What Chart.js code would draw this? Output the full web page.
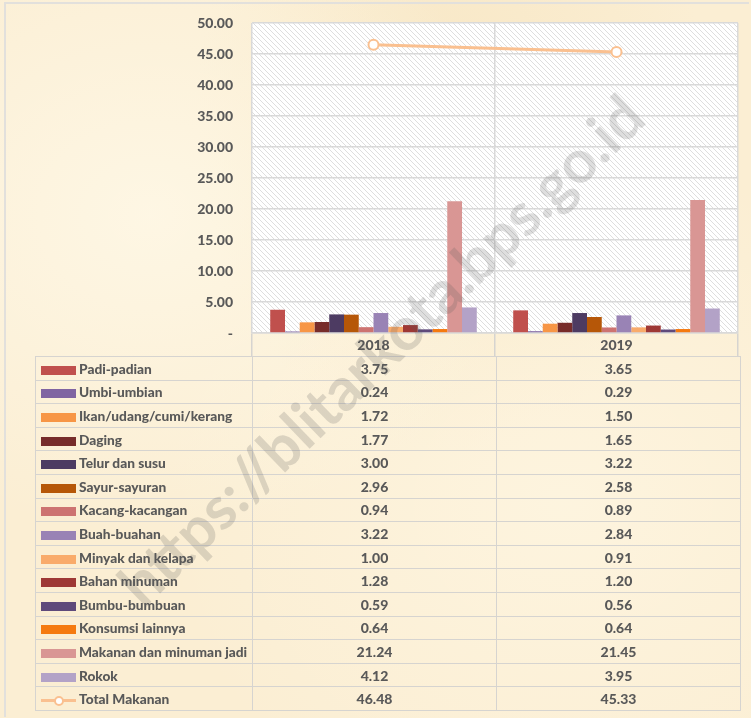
<!DOCTYPE html>
<html>
<head>
<meta charset="utf-8">
<script src="https://cdn.jsdelivr.net/npm/chart.js@4.4.1/dist/chart.umd.min.js"></script>
<style>
  html, body { margin: 0; padding: 0; }
  body {
    width: 751px; height: 718px; overflow: hidden;
    background:
      radial-gradient(ellipse at 20% 30%, rgba(255,250,235,0.7), rgba(255,250,235,0) 45%),
      radial-gradient(ellipse at 75% 70%, rgba(255,248,230,0.6), rgba(255,248,230,0) 50%),
      radial-gradient(ellipse at 60% 15%, rgba(245,225,185,0.5), rgba(245,225,185,0) 40%),
      #fbeed3;
    font-family: Lato, "Open Sans", sans-serif;
  }
  #wrap { position: relative; width: 751px; height: 718px; }
  #frame {
    position: absolute; left: 4px; top: 2px; width: 743px; height: 713px;
    border: 2px solid #e2e0dc; border-bottom: none; border-right: none;
  }
  canvas { position: absolute; left: 0; top: 0; }
  #tbl {
    position: absolute; left: 35px; top: 356px;
    border-collapse: collapse; table-layout: fixed; width: 703px;
    color: #595959; font-weight: 900;
  }
  #tbl td { border: 1px solid #d6d4d0; height: 22.6px; padding: 0; }
  #tbl td.lab { width: 216px; font-size: 13.7px; white-space: nowrap; }
  #tbl td.val { width: 243px; text-align: center; font-size: 14px; }
  .key { display: inline-block; width: 35px; height: 9px; margin: 0 3px 0 5px; vertical-align: -1px; }
  .lkey { display: inline-block; position: relative; width: 35px; height: 9px; margin: 0 3px 0 5px; vertical-align: -1px; }
  .lkey:before { content: ""; position: absolute; left: 0; right: 0; top: 3px; height: 3px; background: #fac090; }
  .lkey:after { content: ""; position: absolute; left: 13px; top: 0; width: 6px; height: 6px; border: 2px solid #fac090; border-radius: 50%; background: #fff; }
  #wm {
    position: absolute; left: 380px; top: 349px; white-space: nowrap;
    transform: translate(-50%, -50%) rotate(-44deg);
    font: bold 60px Lato, sans-serif; color: rgba(90, 90, 90, 0.2);
    pointer-events: none;
  }
</style>
</head>
<body>
<div id="wrap">
  <div id="frame"></div>
  <canvas id="chart" width="751" height="718"></canvas>
  <table id="tbl"></table>
  <div id="wm">https://blitarkota.bps.go.id</div>
</div>
<script>
const years = ['2018', '2019'];
const names = [
  'Padi-padian', 'Umbi-umbian', 'Ikan/udang/cumi/kerang', 'Daging', 'Telur dan susu',
  'Sayur-sayuran', 'Kacang-kacangan', 'Buah-buahan', 'Minyak dan kelapa', 'Bahan minuman',
  'Bumbu-bumbuan', 'Konsumsi lainnya', 'Makanan dan minuman jadi', 'Rokok'
];
const v2018 = [3.75, 0.24, 1.72, 1.77, 3.00, 2.96, 0.94, 3.22, 1.00, 1.28, 0.59, 0.64, 21.24, 4.12];
const v2019 = [3.65, 0.29, 1.50, 1.65, 3.22, 2.58, 0.89, 2.84, 0.91, 1.20, 0.56, 0.64, 21.45, 3.95];
const totalName = 'Total Makanan';
const total = [46.48, 45.33];
const colors = [
  '#c0504d', '#8064a2', '#f79646', '#772c2a', '#4d3b62',
  '#b65708', '#cd7371', '#9983b5', '#f9ab6b', '#9e3835',
  '#5f4a7b', '#f57a10', '#d99694', '#b3a2c7'
];
const lineColor = '#fac090';

// hatch fill for the plot area
const makeHatch = () => {
  const c = document.createElement('canvas');
  c.width = 5; c.height = 5;
  const g = c.getContext('2d');
  g.fillStyle = '#ffffff';
  g.fillRect(0, 0, 5, 5);
  g.strokeStyle = '#dedede';
  g.lineWidth = 1;
  g.beginPath();
  g.moveTo(-1, -1); g.lineTo(6, 6);
  g.moveTo(-1, 4); g.lineTo(1, 6);
  g.moveTo(4, -1); g.lineTo(6, 1);
  g.stroke();
  return c;
};

const hatchPlugin = {
  id: 'hatch',
  beforeDraw(chart) {
    const a = chart.chartArea, ctx = chart.ctx;
    ctx.save();
    ctx.fillStyle = ctx.createPattern(makeHatch(), 'repeat');
    ctx.fillRect(a.left, a.top, a.right - a.left, a.bottom - a.top);
    ctx.restore();
  }
};

const datasets = names.map((n, i) => ({
  type: 'bar',
  label: n,
  data: [v2018[i], v2019[i]],
  backgroundColor: colors[i],
  borderWidth: 0,
  categoryPercentage: 0.85,
  barPercentage: 1.0,
  order: 1
}));
datasets.push({
  type: 'line',
  label: totalName,
  data: total,
  borderColor: lineColor,
  borderWidth: 3,
  pointRadius: 5,
  pointBorderWidth: 2,
  pointBackgroundColor: '#ffffff',
  pointBorderColor: lineColor,
  order: 0
});

const ctx = document.getElementById('chart').getContext('2d');
new Chart(ctx, {
  data: { labels: years, datasets: datasets },
  plugins: [hatchPlugin],
  options: {
    responsive: false,
    animation: false,
    layout: { padding: { left: 0, top: 23, right: 13, bottom: 362 } },
    plugins: { legend: { display: false }, tooltip: { enabled: false } },
    scales: {
      x: {
        grid: { color: '#d9d9d9', lineWidth: 1.5, offset: true, tickLength: 23, tickColor: '#d6d4d0' },
        border: { color: '#d9d9d9', width: 1.5 },
        ticks: { color: '#595959', font: { family: 'Lato', weight: '900', size: 14 }, padding: -19 },
        afterFit: (s) => { s.height = 23; }
      },
      y: {
        min: 0, max: 50,
        grid: { color: '#d9d9d9', lineWidth: 1.5, tickLength: 19, tickColor: 'rgba(0,0,0,0)' },
        border: { display: false },
        ticks: {
          stepSize: 5, padding: 0, color: '#595959',
          font: { family: 'Lato', weight: '900', size: 14 },
          callback: (v) => v === 0 ? '-' : v.toFixed(2)
        },
        afterFit: (s) => { s.width = 252; }
      }
    }
  }
});

// data table under the chart
const tbl = document.getElementById('tbl');
names.forEach((n, i) => {
  const tr = document.createElement('tr');
  tr.innerHTML = '<td class="lab"><span class="key" style="background:' + colors[i] + '"></span>' + n + '</td>' +
    '<td class="val">' + v2018[i].toFixed(2) + '</td><td class="val">' + v2019[i].toFixed(2) + '</td>';
  tbl.appendChild(tr);
});
const tr = document.createElement('tr');
tr.innerHTML = '<td class="lab"><span class="lkey"></span>' + totalName + '</td>' +
  '<td class="val">' + total[0].toFixed(2) + '</td><td class="val">' + total[1].toFixed(2) + '</td>';
tbl.appendChild(tr);
</script>
</body>
</html>
